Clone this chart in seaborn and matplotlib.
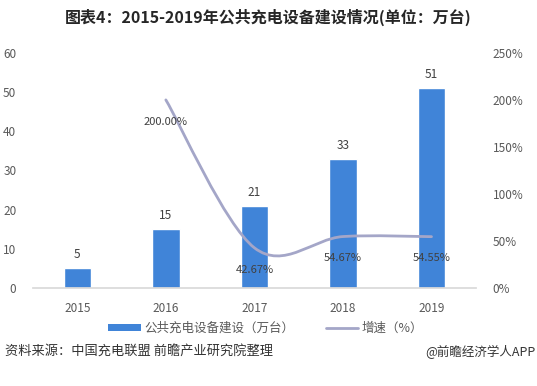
import matplotlib
matplotlib.use("Agg")
import numpy as np
import pandas as pd
import matplotlib.pyplot as plt
import seaborn as sns
from matplotlib.path import Path
from matplotlib.patches import PathPatch, Patch
from matplotlib.lines import Line2D

# Data
years = ["2015", "2016", "2017", "2018", "2019"]
chargers = [5, 15, 21, 33, 51]            # 万台
growth_years = ["2016", "2017", "2018", "2019"]
growth = [200.00, 42.67, 54.67, 54.55]    # %

TITLE = "图表4：2015-2019年公共充电设备建设情况(单位：万台)"
SOURCE = "资料来源：中国充电联盟 前瞻产业研究院整理"
BRAND = "@前瞻经济学人APP"

BAR_COLOR = "#4084d8"
LINE_COLOR = "#a4a6c8"
TICK_COLOR = "#595959"

sns.set_theme(style="white")
plt.rcParams['font.family'] = ['Noto Sans CJK SC', 'DejaVu Sans']


def smooth_path(xs, ys):
    """Excel-like smoothed line as cubic Bezier segments."""
    pts = np.column_stack([xs, ys]).astype(float)
    n = len(pts)
    verts = [pts[0]]
    codes = [Path.MOVETO]
    for i in range(n - 1):
        p_prev = pts[max(i - 1, 0)]
        p0 = pts[i]
        p1 = pts[i + 1]
        p_next = pts[min(i + 2, n - 1)]
        c1 = p0 + (p1 - p_prev) / 6.0
        c2 = p1 - (p_next - p0) / 6.0
        verts += [c1, c2, p1]
        codes += [Path.CURVE4] * 3
    return Path(verts, codes)


def main():
    df = pd.DataFrame({"year": years, "value": chargers})

    fig = plt.figure(figsize=(5.37, 3.86), dpi=100)
    ax = fig.add_axes([0.0615, 0.254, 0.8245, 0.609])

    sns.barplot(data=df, x="year", y="value", color=BAR_COLOR, width=0.31,
                saturation=1, ax=ax)
    ax.set_ylim(0, 60)
    ax.set_yticks(range(0, 61, 10))
    ax.set_xlim(-0.5, len(years) - 0.5)
    ax.set_xlabel("")
    ax.set_ylabel("")
    for bar, v in zip(ax.patches, chargers):
        ax.annotate(str(v), (bar.get_x() + bar.get_width() / 2, bar.get_height()),
                    xytext=(0, 5), textcoords="offset points", ha="center",
                    va="bottom", fontsize=8.5, color="#404040")

    # Growth line on secondary axis
    ax2 = ax.twinx()
    ax2.set_ylim(0, 250)
    ax2.set_yticks(range(0, 251, 50))
    ax2.set_yticklabels([f"{t}%" for t in range(0, 251, 50)])
    gx = [years.index(y) for y in growth_years]
    ax2.add_patch(PathPatch(smooth_path(gx, growth), facecolor="none",
                            edgecolor=LINE_COLOR, lw=2, capstyle="round"))
    for x, g in zip(gx, growth):
        ax2.annotate(f"{g:.2f}%", (x, g), xytext=(0, -12), textcoords="offset points",
                     ha="center", va="top", fontsize=8, color="#404040")

    for a in (ax, ax2):
        for s in a.spines.values():
            s.set_visible(False)
        a.tick_params(length=0, labelsize=8.5, colors=TICK_COLOR)
        a.grid(False)
    ax.spines["bottom"].set_visible(True)
    ax.spines["bottom"].set_color("#d9d9d9")
    ax.tick_params(axis="y", pad=12)
    ax.tick_params(axis="x", pad=10)
    ax2.tick_params(axis="y", pad=12)

    # Legend
    handles = [Patch(facecolor=BAR_COLOR, edgecolor="none"),
               Line2D([0], [0], color=LINE_COLOR, lw=2)]
    labels = ["公共充电设备建设（万台）", "增速（%）"]
    fig.legend(handles, labels, loc="center", bbox_to_anchor=(0.495, 0.15), ncol=2,
               frameon=False, fontsize=9, handlelength=2.6, handleheight=0.5,
               columnspacing=2.5, handletextpad=0.3, labelcolor=TICK_COLOR)

    fig.text(0.5, 0.955, TITLE, ha="center", va="center", fontsize=11.5,
             fontweight="bold", color="#262626")
    fig.text(0.01, 0.088, SOURCE, ha="left", va="center", fontsize=9.5, color="#333333")
    fig.text(0.998, 0.088, BRAND, ha="right", va="center", fontsize=9, color="#333333")

    fig.savefig("out.png", dpi=100)
    plt.close(fig)


if __name__ == "__main__":
    main()
